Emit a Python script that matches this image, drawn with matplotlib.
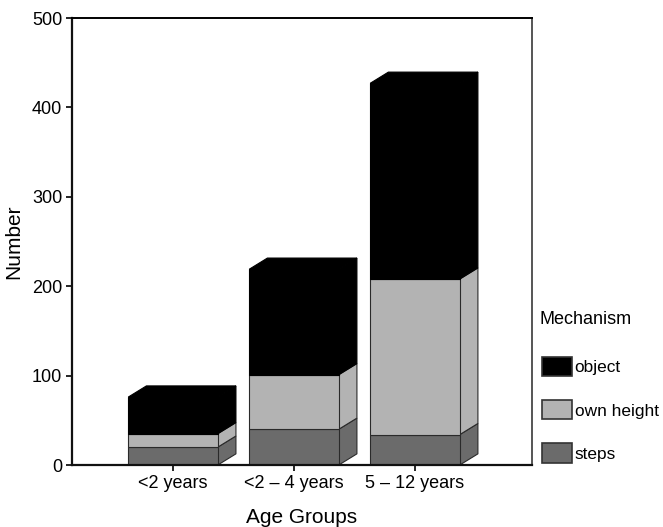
import matplotlib.pyplot as plt
from matplotlib.patches import Polygon, Patch

plt.rcParams['font.family'] = ['Liberation Sans', 'DejaVu Sans']

groups = ['<2 years', '<2 – 4 years', '5 – 12 years']
steps = [20, 40, 34]
own_height = [15, 61, 174]
objects = [41, 118, 219]

mechanisms = ['object', 'own height', 'steps']
colors = ['#000000', '#b3b3b3', '#6b6b6b']

# stacking order, bottom to top
stack = [(steps, colors[2]), (own_height, colors[1]), (objects, colors[0])]

width = 0.74
dx, dy = 0.15, 12.5    # depth offset of the pseudo-3D boxes


def edge_for(col):
    return '#000000' if col == '#000000' else '#2a2a2a'


fig = plt.figure(figsize=(6.63, 5.27), dpi=100)
ax = fig.add_axes([0.1086, 0.1176, 0.6938, 0.8482])

for i, name in enumerate(groups):
    x0 = i - width / 2
    x1 = i + width / 2
    bottom = 0
    for k, (vals, col) in enumerate(stack):
        top = bottom + vals[i]
        ec = edge_for(col)
        front = Polygon([(x0, bottom), (x1, bottom), (x1, top), (x0, top)],
                        closed=True, facecolor=col, edgecolor=ec, lw=0.8)
        side = Polygon([(x1, bottom), (x1 + dx, bottom + dy),
                        (x1 + dx, top + dy), (x1, top)],
                       closed=True, facecolor=col, edgecolor=ec, lw=0.8)
        ax.add_patch(side)
        ax.add_patch(front)
        if k == len(stack) - 1:
            cap = Polygon([(x0, top), (x0 + dx, top + dy),
                           (x1 + dx, top + dy), (x1, top)],
                          closed=True, facecolor=col, edgecolor=ec, lw=0.8)
            ax.add_patch(cap)
        bottom = top

ax.set_xlim(-0.835, 2.967)
ax.set_ylim(0, 500)
ax.set_xticks(range(len(groups)))
ax.set_xticklabels(groups)
ax.set_yticks(range(0, 501, 100))
ax.tick_params(axis='both', direction='out', length=4, width=1.2,
               labelsize=13, pad=3)

for s in ['left', 'bottom']:
    ax.spines[s].set_linewidth(1.6)
    ax.spines[s].set_color('#111111')
ax.spines['top'].set_linewidth(1.4)
ax.spines['top'].set_color('#000000')
ax.spines['right'].set_linewidth(1.4)
ax.spines['right'].set_color('#555555')

ax.set_xlabel('Age Groups', fontsize=15, labelpad=12)
ax.set_ylabel('Number', fontsize=15, labelpad=6)

# legend title sits apart from the entries
fig.text(0.813, (527 - 320) / 527, 'Mechanism', fontsize=13,
         ha='left', va='center')
handles = [Patch(facecolor=c, edgecolor='#333333', lw=1.2) for c in colors]
leg = fig.legend(handles, mechanisms, loc='upper left',
                 bbox_to_anchor=(0.818, (527 - 357) / 527), frameon=False,
                 fontsize=12.4, handlelength=1.75, handleheight=1.35,
                 handletextpad=0.12, labelspacing=1.38,
                 borderpad=0, borderaxespad=0)

fig.savefig('out.png', dpi=100)
